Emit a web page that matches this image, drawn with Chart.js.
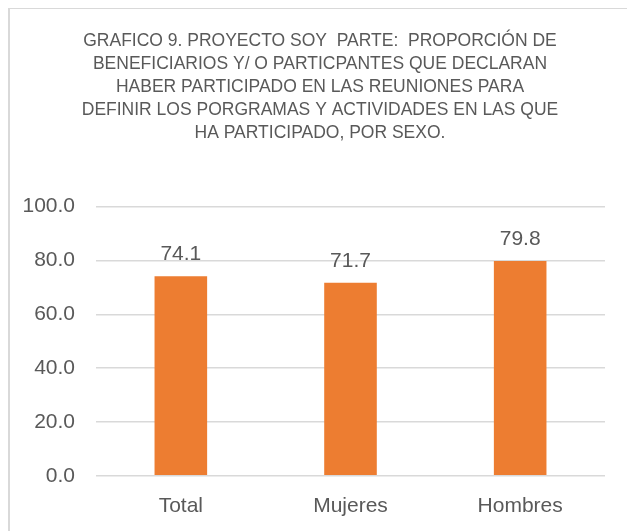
<!DOCTYPE html>
<html>
<head>
<meta charset="utf-8">
<script src="https://cdn.jsdelivr.net/npm/chart.js@4.4.1/dist/chart.umd.min.js"></script>
<style>
  html, body { margin: 0; padding: 0; background: #fff; }
  #frame {
    position: absolute; left: 8px; top: 8px; width: 617px; height: 522px;
    border-top: 1px solid #d9d9d9; border-left: 2px solid #d9d9d9;
  }
</style>
</head>
<body>
<div id="frame"><canvas id="chart"></canvas></div>
<script>
const categories = ['Total', 'Mujeres', 'Hombres'];
const values = [74.1, 71.7, 79.8];
const titleLines = [
  'GRAFICO 9. PROYECTO SOY  PARTE:  PROPORCIÓN DE',
  'BENEFICIARIOS Y/ O PARTICPANTES QUE DECLARAN',
  'HABER PARTICIPADO EN LAS REUNIONES PARA',
  'DEFINIR LOS PORGRAMAS Y ACTIVIDADES EN LAS QUE',
  'HA PARTICIPADO, POR SEXO.'
];

const FONT = "'Liberation Sans Narrow', 'Arial Narrow', 'Liberation Sans', Arial, sans-serif";
const TEXT = '#595959';

// value labels above the bars
const valueLabels = {
  id: 'valueLabels',
  afterDatasetsDraw(chart) {
    const { ctx } = chart;
    const meta = chart.getDatasetMeta(0);
    ctx.save();
    ctx.font = '21px ' + FONT;
    ctx.fillStyle = TEXT;
    ctx.textAlign = 'center';
    ctx.textBaseline = 'middle';
    meta.data.forEach((bar, i) => {
      ctx.fillText(values[i].toFixed(1), bar.x, bar.y - 22);
    });
    ctx.restore();
  }
};

new Chart(document.getElementById('chart'), {
  type: 'bar',
  data: {
    labels: categories,
    datasets: [{
      data: values,
      backgroundColor: '#ED7D31',
      barPercentage: 0.31,
      categoryPercentage: 1.0
    }]
  },
  options: {
    responsive: true,
    maintainAspectRatio: false,
    animation: false,
    layout: { padding: { left: 10, right: 7, top: 0, bottom: 2 } },
    plugins: {
      legend: { display: false },
      tooltip: { enabled: false },
      title: {
        display: true,
        text: titleLines,
        color: TEXT,
        font: { family: FONT, size: 17.5, weight: 'normal', lineHeight: 1.31 },
        padding: { top: 21, bottom: 62 }
      }
    },
    scales: {
      x: {
        grid: { display: false },
        border: { display: false },
        ticks: { color: TEXT, font: { family: FONT, size: 21 }, padding: 10 }
      },
      y: {
        min: 0,
        max: 100,
        afterFit: scale => { scale.width = 76; },
        ticks: {
          stepSize: 20,
          color: TEXT,
          font: { family: FONT, size: 21 },
          padding: 21,
          callback: v => v.toFixed(1)
        },
        grid: { color: '#d9d9d9', lineWidth: 1.5, drawTicks: false },
        border: { display: false }
      },
      // empty right-hand spacer so the plot ends where the original does
      y2: {
        position: 'right',
        display: true,
        grid: { display: false },
        border: { display: false },
        ticks: { display: false },
        afterFit: scale => { scale.width = 15; }
      }
    }
  },
  plugins: [valueLabels]
});
</script>
</body>
</html>
